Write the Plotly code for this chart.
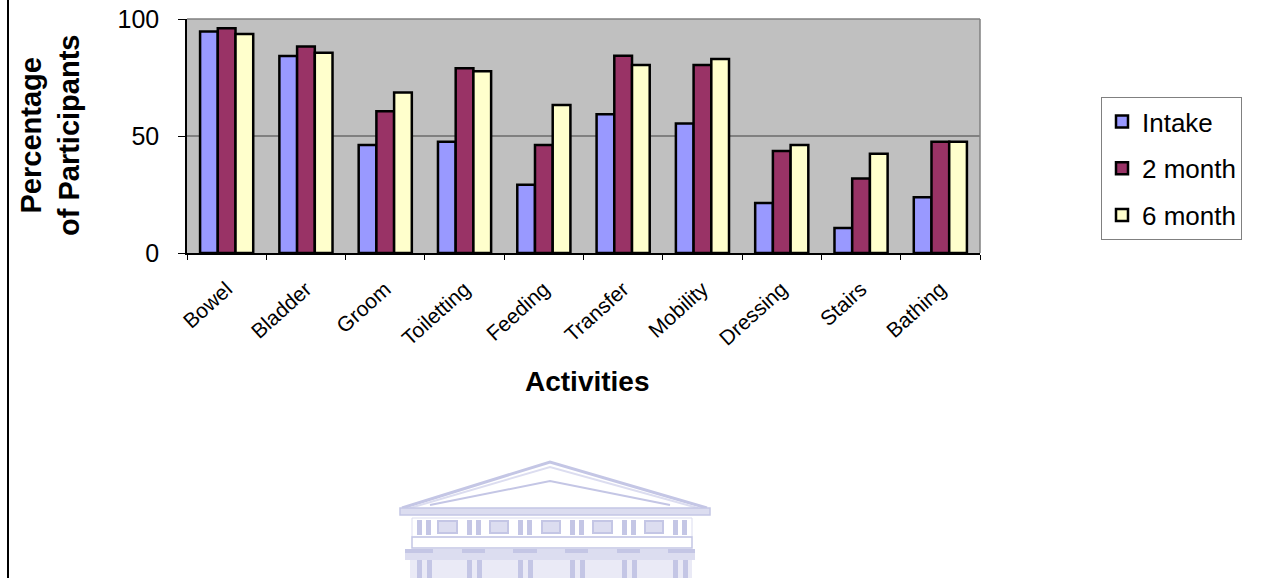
import plotly.graph_objects as go

categories = ["Bowel", "Bladder", "Groom", "Toiletting", "Feeding",
              "Transfer", "Mobility", "Dressing", "Stairs", "Bathing"]
intake = [94.7, 84.2, 46.2, 47.5, 29.2, 59.3, 55.3, 21.4, 10.7, 23.8]
month2 = [96.1, 88.3, 60.6, 78.9, 46.2, 84.3, 80.3, 43.6, 31.8, 47.5]
month6 = [93.6, 85.6, 68.6, 77.7, 63.2, 80.3, 82.9, 46.2, 42.4, 47.5]
series_names = ["Intake", "2 month", "6 month"]
series_colors = ["#9999FF", "#993366", "#FFFFCC"]

# plot area in pixels
L, R, T, B = 187, 980, 19, 253
W, H = 1263, 578


def px(x):
    return (x - L) / (R - L)


def py(y):
    return (B - y) / (B - T)


fig = go.Figure()
for i, (name, vals, col) in enumerate(zip(series_names, [intake, month2, month6], series_colors)):
    fig.add_trace(go.Bar(
        x=categories, y=vals, name=name, legendgroup=name,
        marker=dict(color=col, line=dict(color="black", width=2.5)),
    ))

shapes = []
# top and right plot border (gray)
shapes.append(dict(type="line", xref="paper", yref="paper", x0=0, x1=1, y0=1, y1=1,
                   line=dict(color="#808080", width=1.5), layer="above"))
shapes.append(dict(type="line", xref="paper", yref="paper", x0=1, x1=1, y0=0, y1=1,
                   line=dict(color="#808080", width=1.5), layer="above"))
# left page border line
shapes.append(dict(type="line", xref="paper", yref="paper", x0=px(8), x1=px(8), y0=py(0), y1=py(578),
                   line=dict(color="black", width=2)))

# watermark (faint building)
C1 = "rgb(196,198,229)"
C2 = "rgb(220,221,240)"
C3 = "rgb(234,234,246)"


def rect(x0, y0, x1, y1, fill=None, line=None, lw=1):
    d = dict(type="rect", xref="paper", yref="paper", x0=px(x0), x1=px(x1), y0=py(y1), y1=py(y0),
             line=dict(width=lw if line else 0, color=line or "rgba(0,0,0,0)"))
    if fill:
        d["fillcolor"] = fill
    return d


def poly(pts, color, width):
    p = "M " + " L ".join(f"{px(a):.5f},{py(b):.5f}" for a, b in pts)
    return dict(type="path", xref="paper", yref="paper", path=p, line=dict(color=color, width=width))


shapes.append(poly([(402, 508), (550, 462), (707, 508)], C1, 3))
shapes.append(poly([(410, 508), (550, 467), (698, 508)], C2, 2))
shapes.append(poly([(430, 505), (550, 481), (670, 505)], C1, 2))
shapes.append(rect(400, 508, 710, 515, fill=C2, line=C1, lw=1.5))
shapes.append(rect(412, 518, 692, 537, fill=None, line=C2, lw=1))
for a in [417, 467, 518, 570, 622, 673]:
    shapes.append(rect(a, 520, a + 5, 535, fill=C1))
    shapes.append(rect(a + 9, 520, a + 14, 535, fill=C1))
for a, b in [(438, 457), (490, 508), (542, 560), (593, 612), (645, 663)]:
    shapes.append(rect(a, 521, b, 533, fill=C2, line=C1, lw=2))
shapes.append(rect(412, 537, 692, 548, fill=None, line=C1, lw=1.5))
shapes.append(rect(405, 549, 695, 560, fill=C2))
for a, b in [(405, 433), (462, 485), (513, 537), (565, 588), (617, 640), (668, 695)]:
    shapes.append(rect(a, 549, b, 553, fill=C1))
shapes.append(rect(410, 560, 692, 578, fill=C3))
for a in [417, 467, 518, 570, 622, 673]:
    shapes.append(rect(a, 560, a + 5, 578, fill=C1))
    shapes.append(rect(a + 10, 560, a + 15, 578, fill=C1))

annotations = [
    dict(text="<b>Percentage<br>of Participants</b>", xref="paper", yref="paper",
         x=px(50), y=py(136), textangle=-90, showarrow=False,
         font=dict(family="Arial, Liberation Sans", size=29, color="black"),
         xanchor="center", yanchor="middle"),
    dict(text="<b>Activities</b>", xref="paper", yref="paper",
         x=px(587), y=py(381), showarrow=False,
         font=dict(family="Arial, Liberation Sans", size=28, color="black"),
         xanchor="center", yanchor="middle"),
]

fig.update_layout(
    width=W, height=H,
    margin=dict(l=L, r=W - R, t=T, b=H - B, autoexpand=False),
    paper_bgcolor="white",
    plot_bgcolor="#C0C0C0",
    barmode="group", bargap=0.33, bargroupgap=0,
    font=dict(family="Arial, Liberation Sans", color="black"),
    shapes=shapes,
    annotations=annotations,
    legend=dict(
        x=px(1101), y=py(97), xanchor="left", yanchor="top",
        bordercolor="#808080", borderwidth=1, bgcolor="white",
        font=dict(size=26, color="black"),
        traceorder="grouped", tracegroupgap=10,
    ),
    xaxis=dict(
        showline=True, linecolor="black", linewidth=1.5,
        ticks="outside", ticklen=5, tickcolor="black", tickwidth=1,
        tickson="boundaries", tickangle=-42,
        tickfont=dict(size=21, color="black"),
        ticklabelstandoff=14,
        showgrid=False, automargin=False, fixedrange=True,
    ),
    yaxis=dict(
        range=[0, 100], dtick=50, tick0=0,
        showline=True, linecolor="black", linewidth=1.5,
        ticks="outside", ticklen=7, tickcolor="black", tickwidth=1,
        tickfont=dict(size=25, color="black"),
        ticklabelstandoff=14,
        showgrid=True, gridcolor="#808080", gridwidth=1.5,
        zeroline=False, automargin=False, fixedrange=True,
    ),
)

fig.write_html("out.html")
